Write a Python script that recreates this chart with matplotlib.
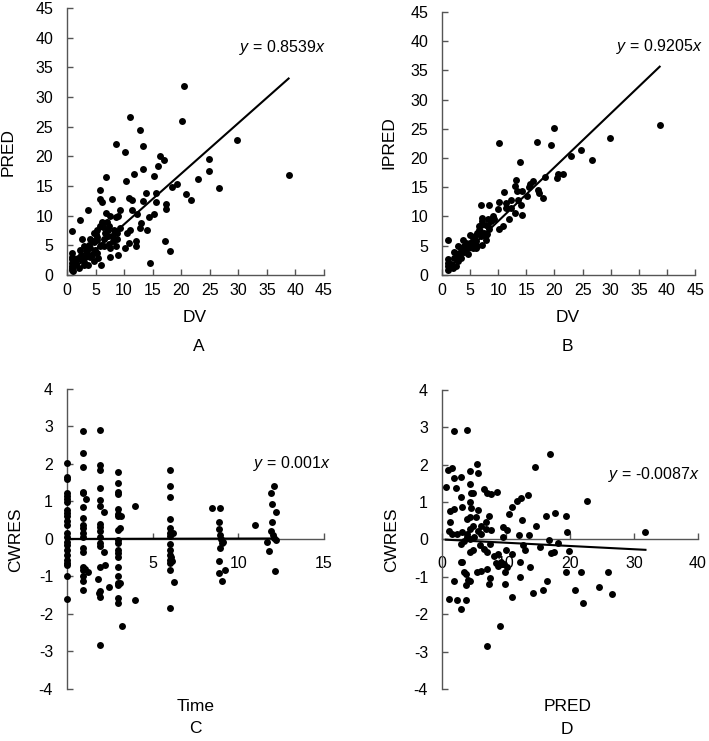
import numpy as np
import matplotlib
matplotlib.use("Agg")
import matplotlib.pyplot as plt

plt.rcParams["font.family"] = ["Liberation Sans", "DejaVu Sans"]
plt.rcParams["mathtext.fontset"] = "custom"
plt.rcParams["mathtext.rm"] = "Liberation Sans"
plt.rcParams["mathtext.it"] = "Liberation Sans:italic"
plt.rcParams["axes.unicode_minus"] = False

# Panel A: DV vs PRED
dv_a = [0.9, 2.2, 3.6, 5.8, 5.7, 6.1, 6.8, 7.9, 8.5, 10.1, 11.1, 12.8, 13.3, 13.3, 11.7, 10.3,
        10.8, 11.4, 9.3, 11.4, 13.8, 13.3, 12.2, 15.2, 16.0, 16.3, 16.9, 15.5, 15.6, 15.2, 17.3,
        17.3, 14.4, 14.0, 17.1, 18.1, 14.5, 18.4, 19.3, 20.5, 20.1, 20.8, 21.7, 23.0, 24.8, 24.8,
        26.6, 29.8, 38.8, 8.5, 8.9, 7.6, 6.8, 7.0, 6.1, 5.2, 4.8, 4.1, 2.6, 2.9, 2.3, 1.6, 2.1,
        0.9, 0.9, 0.9, 3.6, 3.2, 4.1, 5.2, 4.7, 5.9, 5.8, 6.5, 7.6, 7.6, 8.2, 8.5, 9.0, 8.7, 9.3,
        10.2, 10.8, 11.1, 10.5, 12.1, 12.1, 12.7, 13.0, 7.2, 7.1, 5.8, 6.3, 7.3, 5.2, 4.7, 3.8,
        4.9, 5.5, 6.4, 7.9, 8.2, 8.7, 4.4, 2.9, 0.9, 0.9, 0.9, 1.0, 2.3, 3.5, 4.5, 5.0, 6.0, 3.0,
        1.5, 2.5, 4.0, 5.3, 6.6, 7.4, 8.0, 0.9, 1.9, 3.3]
pred_a = [7.4, 9.2, 11.0, 14.3, 12.8, 12.3, 16.5, 12.8, 22.1, 20.8, 26.6, 24.5, 21.8, 17.9, 17.1,
          15.8, 13.0, 12.7, 10.9, 10.9, 13.8, 12.4, 10.3, 16.7, 18.4, 20.0, 19.4, 13.8, 12.3, 10.3,
          12.0, 11.2, 9.7, 7.5, 5.8, 4.0, 2.0, 14.8, 15.4, 31.8, 26.0, 13.7, 12.6, 16.2, 19.6,
          17.6, 14.7, 22.7, 16.9, 9.8, 9.9, 9.9, 10.5, 9.0, 9.0, 7.6, 7.1, 6.1, 6.1, 4.8, 4.2,
          2.6, 1.2, 3.7, 2.0, 0.9, 1.6, 3.1, 4.6, 3.7, 2.3, 1.6, 4.8, 6.0, 4.6, 3.1, 6.0, 4.8,
          3.3, 7.1, 7.9, 4.6, 5.4, 7.6, 7.1, 5.7, 4.9, 7.9, 8.7, 7.6, 6.5, 8.2, 8.0, 8.2, 6.4,
          5.5, 5.1, 4.2, 2.9, 4.8, 6.6, 7.6, 6.0, 3.4, 1.7, 3.1, 1.5, 2.6, 0.6, 2.6, 3.7, 5.8,
          6.9, 5.0, 2.2, 1.9, 3.4, 3.0, 5.9, 7.0, 5.2, 5.7, 1.1, 2.9, 4.0]

# Panel B: DV vs IPRED
dv_b = [38.7, 29.8, 26.6, 24.7, 23.0, 20.0, 19.3, 16.9, 10.2, 13.8, 21.6, 20.7, 20.5, 18.3,
        18.0, 17.3, 17.1, 16.2, 15.7, 15.5, 15.2, 14.3, 13.2, 12.9, 13.3, 11.1, 12.3, 13.5, 14.1,
        11.4, 10.2, 11.4, 12.3, 9.9, 8.4, 6.9, 14.3, 12.9, 12.0, 10.8, 10.2, 9.0, 8.1, 7.2, 7.8,
        6.6, 8.4, 7.5, 6.9, 7.8, 7.2, 6.3, 5.8, 4.9, 6.0, 5.2, 4.6, 4.0, 3.4, 2.8, 2.2, 3.1,
        4.0, 5.5, 6.3, 5.8, 2.2, 2.8, 2.5, 1.9, 1.0, 1.0, 1.0, 1.0, 1.0, 1.6, 3.4, 4.6, 4.9,
        6.0, 6.6, 7.8, 8.1, 8.7, 9.3, 7.2, 5.5, 4.3, 3.7, 5.1, 6.8, 7.0, 8.0, 2.6, 3.9]
ipred_b = [25.7, 23.4, 19.6, 21.3, 20.4, 25.2, 22.2, 22.8, 22.6, 19.3, 17.2, 17.2, 16.6, 16.7,
           13.2, 14.0, 14.6, 16.0, 15.6, 15.0, 13.5, 14.4, 16.3, 15.2, 14.3, 14.1, 12.9, 12.9,
           12.0, 12.3, 12.4, 11.5, 11.5, 11.2, 12.0, 12.0, 10.3, 10.6, 9.5, 8.3, 7.9, 10.0, 9.6,
           9.8, 8.6, 8.3, 7.8, 7.2, 6.6, 6.0, 5.2, 7.2, 6.6, 6.9, 5.8, 5.5, 4.6, 4.9, 4.6, 4.9,
           4.0, 3.8, 4.0, 4.6, 4.9, 5.8, 2.9, 2.3, 1.5, 1.2, 6.0, 2.7, 2.1, 1.5, 0.8, 1.8, 2.9,
           3.5, 5.5, 4.6, 7.7, 6.8, 8.3, 9.2, 9.5, 9.2, 6.3, 5.5, 6.0, 5.0, 7.5, 8.6, 7.0, 3.3, 4.2]

# Panel C: Time vs CWRES
time_c = [0, 0, 0, 0, 0, 0, 0, 0, 0, 0, 0, 0, 0, 0, 0, 0, 0, 0, 0, 0, 0, 0, 0,
          0.93, 0.93, 0.93, 0.93, 0.93, 0.93, 0.93, 0.93, 0.93, 0.93, 0.93, 0.93, 0.93, 0.93,
          0.93, 0.93, 0.93, 0.93, 1.13, 1.2, 1.07,
          1.94, 1.94, 1.94, 1.94, 1.94, 1.94, 1.94, 1.94, 1.94, 1.94, 1.94, 1.94, 1.94, 1.94,
          1.94, 1.94, 1.79, 1.87, 2.14, 2.18, 2.23, 2.43, 3.96, 3.96, 3.23,
          2.95, 2.95, 2.95, 2.95, 2.95, 2.95, 2.95, 2.95, 2.95, 2.95, 2.95, 2.95, 2.95, 2.95,
          2.95, 2.95, 2.95, 2.95, 2.95, 3.15, 3.1, 3.1,
          6.0, 6.0, 6.0, 6.0, 6.0, 6.0, 6.0, 6.0, 6.0, 6.0, 6.0, 6.0, 6.0, 6.0, 6.16, 6.14,
          6.22, 6.08,
          8.45, 8.94, 8.9, 8.86, 8.94, 8.98, 9.04, 8.94, 8.86, 8.86, 9.03, 9.23, 9.13,
          10.98, 11.9, 12.1, 11.95, 11.95, 11.9, 12.0, 12.1, 11.66, 12.2, 11.8, 12.2, 12.14]
cwres_c = [2.02, 1.66, 1.6, 1.22, 1.15, 1.06, 0.98, 0.77, 0.68, 0.6, 0.49, 0.37, 0.15, 0.06,
           -0.07, -0.16, -0.29, -0.43, -0.56, -0.65, -0.69, -0.99, -1.61,
           2.89, 2.28, 1.91, 1.26, 1.22, 0.86, 0.57, 0.37, 0.28, 0.15, 0.06, -0.23, -0.34,
           -0.76, -0.83, -1.0, -1.11, -1.36, 1.06, -0.87, -0.81,
           2.91, 1.96, 1.84, 1.35, 1.04, 0.88, 0.4, 0.33, 0.21, 0.06, -0.12, -0.2, -0.74, -1.4,
           -1.54, -2.83, -1.08, -1.43, 0.73, -0.36, -0.69, -1.27, 0.88, -1.63, -2.31,
           1.78, 1.48, 1.26, 1.2, 0.79, 0.67, 0.61, 0.24, -0.03, -0.12, -0.29, -0.38, -0.47,
           -0.74, -1.0, -1.18, -1.23, -1.58, -1.7, 0.62, -1.18, 0.28,
           1.84, 1.4, 1.11, 0.53, 0.28, 0.17, 0.09, -0.13, -0.29, -0.43, -0.56, -0.63, -0.83,
           -1.85, 0.15, -0.59, -1.16, -0.47,
           0.82, 0.82, 0.44, 0.26, 0.11, -0.01, -0.12, -0.25, -0.6, -0.9, -1.11, -0.83, -0.07,
           0.36, 1.22, 1.4, 0.93, 0.46, 0.2, 0.11, 0.02, -0.07, -0.03, -0.32, 0.73, -0.85]

# Panel D: PRED vs CWRES
pred_d = [1.8, 3.9, 0.9, 1.6, 1.8, 2.9, 4.3, 5.5, 5.7, 0.6, 2.2, 3.0, 4.4, 4.6, 4.9, 6.5, 7.0,
          7.6, 8.6, 1.3, 1.8, 3.2, 4.4, 4.6, 5.6, 3.9, 4.3, 5.3, 6.1, 6.9, 7.4, 1.3, 1.1, 1.6,
          2.4, 3.1, 3.9, 4.3, 4.9, 5.6, 6.1, 6.8, 7.6, 3.0, 3.5, 3.9, 4.4, 5.0, 4.8, 4.4, 6.0,
          6.6, 7.1, 7.5, 6.1, 5.5, 7.1, 7.4, 7.5, 8.4, 8.7, 8.2, 8.7, 9.2, 9.7, 9.5, 10.2, 10.4,
          11.0, 11.7, 12.3, 13.4, 14.5, 16.9, 9.6, 10.0, 11.0, 9.8, 10.2, 9.9, 11.0, 12.2, 12.2,
          12.5, 12.1, 12.7, 13.0, 13.6, 13.8, 14.2, 14.7, 15.3, 15.8, 16.2, 16.4, 16.8, 17.0,
          17.5, 17.6, 18.2, 19.4, 19.6, 19.9, 19.4, 20.8, 21.7, 22.1, 22.6, 24.5, 26.0, 26.6,
          31.8, 1.1, 2.3, 1.9, 2.9, 2.9, 3.2, 3.7, 3.7, 4.0, 3.5, 3.7, 4.3, 7.1, 9.1]
cwres_d = [2.9, 2.92, 1.85, 1.91, 1.65, 1.67, 1.83, 2.03, 1.78, 1.4, 1.38, 1.13, 1.49, 1.24,
           1.24, 1.36, 1.24, 1.22, 1.27, 0.76, 0.81, 0.87, 1.0, 0.85, 0.79, 0.55, 0.6, 0.6, 0.37,
           0.46, 0.64, 0.46, 0.24, 0.15, 0.15, 0.2, 0.15, 0.29, 0.35, 0.24, 0.15, 0.29, 0.26,
           -0.12, -0.03, 0.06, 0.02, 0.06, -0.29, -0.34, -0.16, -0.25, -0.34, -0.12, -0.83,
           -0.87, -0.79, -1.19, -1.03, -0.63, -0.72, -0.43, -0.38, -0.61, -0.65, 0.33, 0.26,
           0.69, 0.87, 1.04, 1.11, 1.2, 1.95, 2.29, 0.06, -0.29, -0.38, -0.87, -0.74, -1.19,
           -1.54, -1.01, -0.61, 0.51, 0.13, -0.16, -0.29, 0.11, -0.74, -1.43, 0.37, -0.19,
           -1.36, 0.62, -1.1, -0.01, -0.37, -0.34, 0.7, -0.1, 0.64, 0.2, -0.32, -0.87, -1.36,
           -0.87, -1.7, 1.04, -1.28, -0.87, -1.47, 0.21, -1.59, -1.61, -1.11, -1.87, -0.59,
           -0.59, -1.63, -1.23, -1.08, -0.87, -0.92, -1.11, -2.84, -2.32]

slopes = [0.8539, 0.9205, 0.001, -0.0087]
eq_labels = ["$y$ = 0.8539$x$", "$y$ = 0.9205$x$", "$y$ = 0.001$x$", "$y$ = -0.0087$x$"]

fig = plt.figure(figsize=(7.09, 7.41), dpi=100)
axA = fig.add_axes([0.0945, 0.629, 0.3625, 0.360])
axB = fig.add_axes([0.6234, 0.629, 0.357, 0.355])
axC = fig.add_axes([0.0945, 0.0702, 0.3625, 0.405])
axD = fig.add_axes([0.6234, 0.0702, 0.361, 0.4035])

spine_col = "#555555"
txt_col = "black"

panels = [
    (axA, dv_a, pred_a, slopes[0], eq_labels[0], (45.3, 38.4)),
    (axB, dv_b, ipred_b, slopes[1], eq_labels[1], (46.3, 39.1)),
    (axC, time_c, cwres_c, slopes[2], eq_labels[2], (15.4, 2.0)),
    (axD, pred_d, cwres_d, slopes[3], eq_labels[3], (40.3, 1.73)),
]

for ax, xs, ys, k, eq, pos in panels:
    ax.plot(xs, ys, "o", color="black", markersize=5.0, markeredgewidth=0, clip_on=False, zorder=3)
    x0, x1 = min(xs), max(xs)
    ax.plot([x0, x1], [k * x0, k * x1], color="black", linewidth=1.5, zorder=4)
    ax.text(pos[0], pos[1], eq, ha="right", va="center", fontsize=11.5, color=txt_col)
    for s in ["top", "right"]:
        ax.spines[s].set_visible(False)
    for s in ["left", "bottom"]:
        ax.spines[s].set_color(spine_col)
        ax.spines[s].set_linewidth(1.0)
    ax.tick_params(direction="in", length=4.3, width=1.0, color=spine_col,
                   labelsize=11.5, labelcolor=txt_col)
    ax.tick_params(axis="y", pad=10)

for ax in (axA, axB):
    ax.set_xlim(0, 45)
    ax.set_ylim(0, 45)
    ax.set_xticks(range(0, 46, 5))
    ax.set_yticks(range(0, 46, 5))
    ax.tick_params(axis="x", pad=6)

axC.set_xlim(0, 15)
axC.set_xticks([5, 10, 15])
axD.set_xlim(0, 40)
axD.set_xticks(range(0, 41, 10))
for ax in (axC, axD):
    ax.set_ylim(-4, 4)
    ax.set_yticks(range(-4, 5))
    ax.spines["bottom"].set_position(("data", 0))
    ax.tick_params(axis="x", pad=12)

# axis titles and panel letters
fs = 12.5
fig.text(0.012, 0.795, "PRED", rotation=90, ha="center", va="center", fontsize=fs, color=txt_col)
fig.text(0.549, 0.807, "IPRED", rotation=90, ha="center", va="center", fontsize=fs, color=txt_col)
fig.text(0.0226, 0.271, "CWRES", rotation=90, ha="center", va="center", fontsize=fs, color=txt_col)
fig.text(0.553, 0.271, "CWRES", rotation=90, ha="center", va="center", fontsize=fs, color=txt_col)
fig.text(0.275, 0.572, "DV", ha="center", va="center", fontsize=fs, color=txt_col)
fig.text(0.80, 0.572, "DV", ha="center", va="center", fontsize=fs, color=txt_col)
fig.text(0.276, 0.046, "Time", ha="center", va="center", fontsize=fs, color=txt_col)
fig.text(0.80, 0.046, "PRED", ha="center", va="center", fontsize=fs, color=txt_col)
fig.text(0.28, 0.532, "A", ha="center", va="center", fontsize=fs, color=txt_col)
fig.text(0.80, 0.532, "B", ha="center", va="center", fontsize=fs, color=txt_col)
fig.text(0.275, 0.0175, "C", ha="center", va="center", fontsize=fs, color=txt_col)
fig.text(0.80, 0.016, "D", ha="center", va="center", fontsize=fs, color=txt_col)

fig.savefig("out.png", dpi=100)
